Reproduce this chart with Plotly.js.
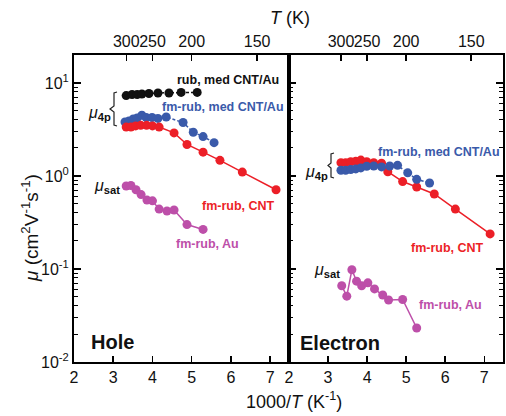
<!DOCTYPE html>
<html>
<head>
<meta charset="utf-8">
<script src="https://cdn.plot.ly/plotly-3.0.1.min.js"></script>
<style>html,body{margin:0;padding:0;background:#fff;}#plot{width:506px;height:416px;}</style>
</head>
<body>
<div id="plot"></div>
<script>
// ---------------- data (1000/T in K^-1, mobility in cm^2 V^-1 s^-1) ----------------
const holeRubMedX = [3.33, 3.48, 3.61, 3.73, 3.91, 4.14, 4.42, 4.73, 5.14];
const holeRubMedY = [7.3, 7.5, 7.5, 7.6, 7.7, 7.8, 7.8, 7.9, 7.9];

const holeFmMedX = [3.30, 3.40, 3.51, 3.61, 3.73, 3.84, 3.99, 4.14, 4.35, 4.78, 5.04, 5.29, 5.57];
const holeFmMedY = [3.8, 3.9, 4.1, 4.2, 4.5, 4.25, 4.25, 4.15, 4.3, 3.75, 2.95, 2.65, 2.28];

const holeFmCntX = [3.33, 3.45, 3.57, 3.70, 3.85, 4.00, 4.17, 4.55, 4.88, 5.29, 5.72, 6.29, 7.15];
const holeFmCntY = [3.35, 3.35, 3.45, 3.5, 3.5, 3.45, 3.35, 2.9, 2.18, 1.8, 1.47, 1.1, 0.71];

const holeFmAuX = [3.33, 3.45, 3.58, 3.71, 3.86, 4.00, 4.17, 4.37, 4.55, 4.88, 5.29];
const holeFmAuY = [0.78, 0.79, 0.71, 0.63, 0.55, 0.54, 0.44, 0.42, 0.43, 0.30, 0.266];

const elecFmCntX = [3.33, 3.45, 3.58, 3.71, 3.84, 3.99, 4.17, 4.37, 4.53, 4.91, 5.27, 5.72, 6.26, 7.15];
const elecFmCntY = [1.39, 1.39, 1.42, 1.44, 1.48, 1.42, 1.39, 1.37, 1.11, 0.87, 0.76, 0.64, 0.44, 0.238];

const elecFmMedX = [3.33, 3.45, 3.58, 3.71, 3.84, 3.99, 4.17, 4.37, 4.58, 4.78, 5.04, 5.27, 5.60];
const elecFmMedY = [1.15, 1.15, 1.17, 1.19, 1.22, 1.27, 1.28, 1.25, 1.28, 1.30, 1.08, 0.92, 0.84];

const elecFmAuX = [3.35, 3.48, 3.61, 3.73, 3.86, 4.02, 4.19, 4.40, 4.55, 4.91, 5.27];
const elecFmAuY = [0.066, 0.051, 0.098, 0.074, 0.066, 0.071, 0.061, 0.0525, 0.0464, 0.047, 0.0232];

// tick labels
const bottomTicks = [2, 3, 4, 5, 6, 7];
const topTicksT = [300, 250, 200, 150];
const yTickVals = [0.01, 0.1, 1, 10];
const yTickText = ['10<sup>-2</sup>', '10<sup>-1</sup>', '10<sup>0</sup>', '10<sup>1</sup>'];

// ---------------- styling ----------------
const FONT = 'Liberation Sans, Arial, Helvetica, sans-serif';
const BLACK = '#111111', BLUE = '#3a5aaa', RED = '#ec1f27', MAG = '#bd4fa9';
const W = 506, H = 416;
const L = 74, R = 503, T = 55, B = 362;
const SPLIT = 289;
const dSplit = (SPLIT - L) / (R - L);
const px = x => (x - L) / (R - L);
const py = y => (B - y) / (B - T);

const minorVals = [];
for (let e = -2; e <= 1; e++) for (let d = 2; d <= 9; d++) { const v = d * Math.pow(10, e); if (v < 19.9) minorVals.push(v); }

function tr(x, y, color, xa, ya, dash) {
  return {x: x, y: y, xaxis: xa, yaxis: ya, type: 'scatter', mode: 'lines+markers',
    marker: {color: color, size: 9, line: {width: 0}},
    line: {color: color, width: 1.5, dash: dash || 'solid'}, showlegend: false, hoverinfo: 'skip'};
}

const data = [
  tr(holeRubMedX, holeRubMedY, BLACK, 'x', 'y', '3px,2px'),
  tr(holeFmMedX, holeFmMedY, BLUE, 'x', 'y', '3px,2px'),
  tr(holeFmCntX, holeFmCntY, RED, 'x', 'y'),
  tr(holeFmAuX, holeFmAuY, MAG, 'x', 'y'),
  tr(elecFmCntX, elecFmCntY, RED, 'x2', 'y2'),
  tr(elecFmMedX, elecFmMedY, BLUE, 'x2', 'y2', '3px,2px'),
  tr(elecFmAuX, elecFmAuY, MAG, 'x2', 'y2'),
  {x: [null], y: [null], xaxis: 'x3', yaxis: 'y', type: 'scatter', mode: 'markers', showlegend: false, hoverinfo: 'skip'},
  {x: [null], y: [null], xaxis: 'x4', yaxis: 'y2', type: 'scatter', mode: 'markers', showlegend: false, hoverinfo: 'skip'}
];

const xr = [2, 7.48];
const baseX = {range: xr, tickmode: 'array', tickvals: bottomTicks, ticktext: bottomTicks.map(String), tickangle: 0,
  ticks: 'inside', ticklen: 6, tickwidth: 1.5, tickcolor: '#000', showline: true, linewidth: 2, linecolor: '#000',
  showgrid: false, zeroline: false, tickfont: {family: FONT, size: 16, color: '#111'}, fixedrange: true};
const topX = {range: xr, tickmode: 'array', tickvals: topTicksT.map(t => 1000 / t), ticktext: topTicksT.map(String), tickangle: 0,
  ticks: 'inside', ticklen: 6, tickwidth: 1.5, tickcolor: '#000', showline: true, linewidth: 2, linecolor: '#000',
  side: 'top', showgrid: false, zeroline: false, tickfont: {family: FONT, size: 16, color: '#111'}, fixedrange: true};
const baseY = {type: 'log', range: [-2, 1.3], tickmode: 'array', tickvals: yTickVals, ticktext: yTickText, tickangle: 0,
  ticks: 'inside', ticklen: 7, tickwidth: 1.5, tickcolor: '#000', showline: true, linewidth: 2, linecolor: '#000',
  minor: {tickmode: 'array', tickvals: minorVals, ticks: 'inside', ticklen: 4, tickwidth: 1, tickcolor: '#000', showgrid: false},
  showgrid: false, zeroline: false, tickfont: {family: FONT, size: 16, color: '#111'}, fixedrange: true};

function ann(x, y, text, color, size, extra) {
  return Object.assign({xref: 'paper', yref: 'paper', x: px(x), y: py(y), text: text, showarrow: false,
    xanchor: 'center', yanchor: 'middle', font: {family: FONT, size: size, color: color}}, extra || {});
}

const annotations = [
  ann(228, 80, '<b>rub, med CNT/Au</b>', BLACK, 12.5),
  ann(223, 107, '<b>fm-rub, med CNT/Au</b>', BLUE, 12.5),
  ann(99, 113, '<i>μ</i><sub><b>4p</b></sub>', BLACK, 16),
  ann(107, 186, '<i>μ</i><sub><b>sat</b></sub>', BLACK, 16),
  ann(238, 206, '<b>fm-rub, CNT</b>', RED, 12.5),
  ann(207, 244, '<b>fm-rub, Au</b>', MAG, 12.5),
  ann(112, 342, '<b>Hole</b>', BLACK, 20),
  ann(439, 152, '<b>fm-rub, med CNT/Au</b>', BLUE, 12.5),
  ann(316, 172, '<i>μ</i><sub><b>4p</b></sub>', BLACK, 16),
  ann(447, 248, '<b>fm-rub, CNT</b>', RED, 12.5),
  ann(327, 270, '<i>μ</i><sub><b>sat</b></sub>', BLACK, 16),
  ann(450, 305, '<b>fm-rub, Au</b>', MAG, 12.5),
  ann(340, 343, '<b>Electron</b>', BLACK, 20),
  ann(290, 18, '<i>T</i> (K)', '#111', 18),
  ann(294, 400, '1000/<i>T</i> (K<sup>-1</sup>)', '#111', 18),
  ann(30, 228, '<i>μ</i> (cm<sup>2</sup>V<sup>-1</sup>s<sup>-1</sup>)', '#111', 19, {textangle: -90})
];

function bracePath(pts) {
  return 'M ' + pts.map(p => px(p[0]).toFixed(5) + ',' + py(p[1]).toFixed(5)).join(' L ');
}
const shapes = [
  {type: 'path', xref: 'paper', yref: 'paper', line: {color: '#222', width: 1.2},
    path: bracePath([[117, 92], [114, 93], [114, 106], [110, 109], [114, 112], [114, 125], [117, 126]])},
  {type: 'path', xref: 'paper', yref: 'paper', line: {color: '#222', width: 1.2},
    path: bracePath([[334, 153], [331, 154], [331, 163], [328, 165.5], [331, 168], [331, 177], [334, 178]])}
];

const layout = {
  width: W, height: H, margin: {l: L, r: W - R, t: T, b: H - B},
  paper_bgcolor: '#fff', plot_bgcolor: 'rgba(0,0,0,0)', showlegend: false,
  font: {family: FONT, color: '#111'},
  xaxis: Object.assign({}, baseX, {domain: [0, dSplit], anchor: 'y'}),
  xaxis2: Object.assign({}, baseX, {domain: [dSplit, 1], anchor: 'y2'}),
  xaxis3: Object.assign({}, topX, {overlaying: 'x', anchor: 'y'}),
  xaxis4: Object.assign({}, topX, {overlaying: 'x2', anchor: 'y2'}),
  yaxis: Object.assign({}, baseY, {domain: [0, 1], anchor: 'x', mirror: true}),
  yaxis2: Object.assign({}, baseY, {domain: [0, 1], anchor: 'x2', mirror: 'ticks', showticklabels: false}),
  annotations: annotations, shapes: shapes
};

Plotly.newPlot('plot', data, layout, {staticPlot: true, displayModeBar: false});
</script>
</body>
</html>
